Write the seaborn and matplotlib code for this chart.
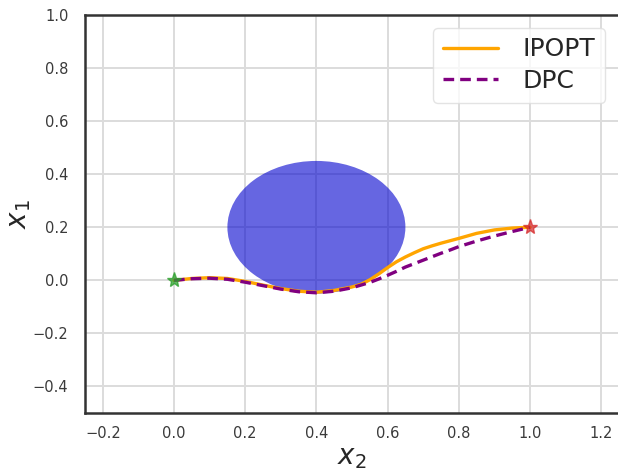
import matplotlib
matplotlib.use("Agg")
import matplotlib.pyplot as plt
from matplotlib.patches import Circle
import pandas as pd
import seaborn as sns

# Trajectories in the (x2, x1) plane
ipopt_x2 = [0.00, 0.05, 0.10, 0.15, 0.20, 0.25, 0.30, 0.35, 0.40, 0.45, 0.50,
            0.525, 0.55, 0.575, 0.60, 0.625, 0.65, 0.675, 0.70, 0.725, 0.75,
            0.775, 0.80, 0.85, 0.90, 0.95, 1.00]
ipopt_x1 = [0.000, 0.007, 0.010, 0.007, -0.004, -0.018, -0.031, -0.041, -0.045,
            -0.038, -0.025, -0.015, 0.002, 0.024, 0.048, 0.070, 0.088, 0.104,
            0.119, 0.130, 0.140, 0.149, 0.158, 0.177, 0.190, 0.197, 0.200]
dpc_x2 = ipopt_x2
dpc_x1 = [0.000, 0.006, 0.008, 0.004, -0.007, -0.020, -0.033, -0.043, -0.047,
          -0.041, -0.028, -0.018, -0.008, 0.005, 0.019, 0.034, 0.050, 0.063,
          0.076, 0.089, 0.102, 0.114, 0.127, 0.148, 0.167, 0.184, 0.200]

# Obstacle and endpoints
obstacle_center = (0.4, 0.2)
obstacle_radius = 0.25
start_point = (0.0, 0.0)
goal_point = (1.0, 0.2)

x_ticks = [-0.2, 0.0, 0.2, 0.4, 0.6, 0.8, 1.0, 1.2]
y_ticks = [-0.4, -0.2, 0.0, 0.2, 0.4, 0.6, 0.8, 1.0]

sns.set_style("white")
plt.rcParams["font.family"] = ["DejaVu Sans"]

fig = plt.figure(figsize=(6.18, 4.72), dpi=100)
ax = fig.add_axes([85 / 618, 59 / 472, 534 / 618, 398 / 472])

ax.grid(True, color="#dcdcdc", linewidth=1.4, zorder=0)
ax.set_axisbelow(True)

ax.add_patch(Circle(obstacle_center, obstacle_radius, facecolor="mediumblue",
                    edgecolor="none", alpha=0.6, zorder=1))

df = pd.DataFrame({
    "x2": ipopt_x2 + dpc_x2,
    "x1": ipopt_x1 + dpc_x1,
    "method": ["IPOPT"] * len(ipopt_x2) + ["DPC"] * len(dpc_x2),
})
sns.lineplot(data=df[df.method == "IPOPT"], x="x2", y="x1", color="orange",
             linewidth=2.4, label="IPOPT", ax=ax, sort=False, zorder=3)
sns.lineplot(data=df[df.method == "DPC"], x="x2", y="x1", color="purple",
             linewidth=2.4, linestyle=(0, (3.2, 1.8)), label="DPC", ax=ax,
             sort=False, zorder=4)

ax.plot(*start_point, marker="*", color="tab:green", markersize=11, alpha=0.75,
        linestyle="none", zorder=5)
ax.plot(*goal_point, marker="*", color="tab:red", markersize=11, alpha=0.7,
        linestyle="none", zorder=5)

ax.set_xlim(-0.25, 1.25)
ax.set_ylim(-0.5, 1.0)
ax.set_xticks(x_ticks)
ax.set_yticks(y_ticks)
ax.tick_params(axis="both", labelsize=10.5, colors="#3a3a3a", length=0)
ax.tick_params(axis="y", pad=12)
ax.tick_params(axis="x", pad=9)

ax.set_xlabel("$x_2$", fontsize=20, labelpad=2)
ax.set_ylabel("$x_1$", fontsize=20)
ax.yaxis.set_label_coords(-0.097, 0.5)

for side in ["left", "bottom", "top", "right"]:
    ax.spines[side].set_color("#333333")
    ax.spines[side].set_linewidth(1.8)

leg = ax.legend(loc="upper right", fontsize=18, frameon=True,
                borderpad=0.4, labelspacing=0.3, handlelength=2.2,
                handletextpad=1.0, bbox_to_anchor=(0.998, 1.0))
leg.get_frame().set_edgecolor("#dddddd")
for t in leg.get_texts():
    t.set_color("#262626")

fig.savefig("out.png", dpi=100)
